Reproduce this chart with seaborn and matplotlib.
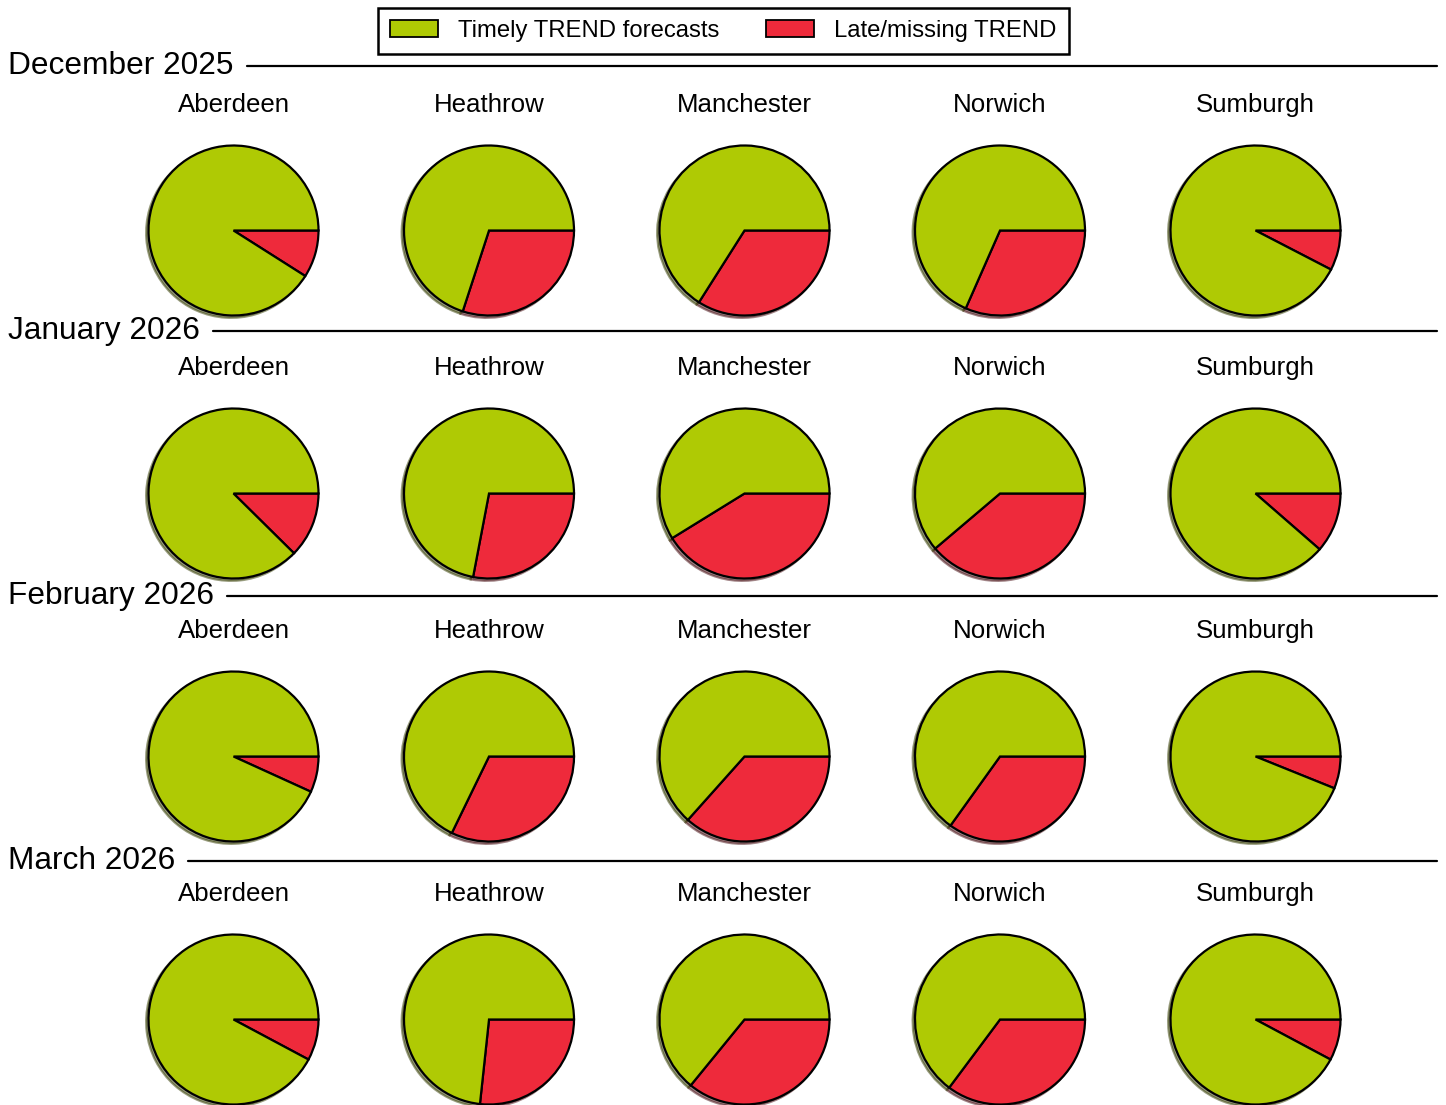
import matplotlib
matplotlib.use("Agg")
import matplotlib.pyplot as plt
import seaborn as sns
from matplotlib.patches import Patch
from matplotlib.lines import Line2D

sns.set_theme(style="white")
plt.rcParams['font.family'] = ['Liberation Sans', 'DejaVu Sans']
plt.rcParams['text.color'] = 'black'

months = ["December 2025", "January 2026", "February 2026", "March 2026"]
airports = ["Aberdeen", "Heathrow", "Manchester", "Norwich", "Sumburgh"]
# Percentage of late/missing TREND forecasts
late_dec = [9.0, 30.0, 34.0, 31.6, 7.6]
late_jan = [12.4, 28.0, 41.2, 38.8, 11.4]
late_feb = [6.8, 32.2, 36.6, 34.9, 6.1]
late_mar = [7.8, 26.7, 35.9, 35.2, 7.8]
late_all = [late_dec, late_jan, late_feb, late_mar]

labels = ["Timely TREND forecasts", "Late/missing TREND"]
green = "#afca04"
red = "#ee2a3b"

W, H = 1446, 1105
fig = plt.figure(figsize=(W / 100, H / 100), dpi=100)

R = 85
col_x0, col_dx = 233.5, 255.5
row_y0, row_dy = 230.5, 263
ext = 1.2

for i, month in enumerate(months):
    for j, ap in enumerate(airports):
        cx = col_x0 + col_dx * j
        cy = row_y0 + row_dy * i
        half = R * ext
        ax = fig.add_axes([(cx - half) / W, 1 - (cy + half) / H, 2 * half / W, 2 * half / H])
        late = late_all[i][j]
        ax.pie([late, 100 - late], colors=[red, green], startangle=0, counterclock=False,
               shadow=True, wedgeprops=dict(edgecolor="black", linewidth=1.6))
        ax.set_xlim(-ext, ext)
        ax.set_ylim(-ext, ext)
        ax.set_aspect("equal")
        ax.axis("off")
        fig.text(cx / W, 1 - (112 + row_dy * i) / H, ap, ha="center", va="baseline",
                 fontsize=18.6, color="black")

# Month headers with rules
fig.canvas.draw()
renderer = fig.canvas.get_renderer()
for i, month in enumerate(months):
    ly = 65.5 + 265.2 * i
    t = fig.text(8 / W, 1 - (ly + 8) / H, month, ha="left", va="baseline",
                 fontsize=22.8, color="black")
    bb = t.get_window_extent(renderer=renderer)
    x_start = bb.x1 + 13
    fig.add_artist(Line2D([x_start / W, 1437 / W], [1 - ly / H, 1 - ly / H],
                          transform=fig.transFigure, color="black", linewidth=1.6))

handles = [Patch(facecolor=green, edgecolor="black", linewidth=1.3),
           Patch(facecolor=red, edgecolor="black", linewidth=1.3)]
leg = fig.legend(handles, labels, loc="upper center", bbox_to_anchor=(723.5 / W, 1 - 8 / H),
                 ncol=2, fontsize=17.2, frameon=True, fancybox=False, edgecolor="black",
                 framealpha=1.0, handlelength=2.0, handleheight=0.75, handletextpad=0.85,
                 columnspacing=1.95, borderpad=0.5, borderaxespad=0, labelcolor="black")
leg.get_frame().set_linewidth(1.8)

fig.savefig("out.png", dpi=100, facecolor="white")
